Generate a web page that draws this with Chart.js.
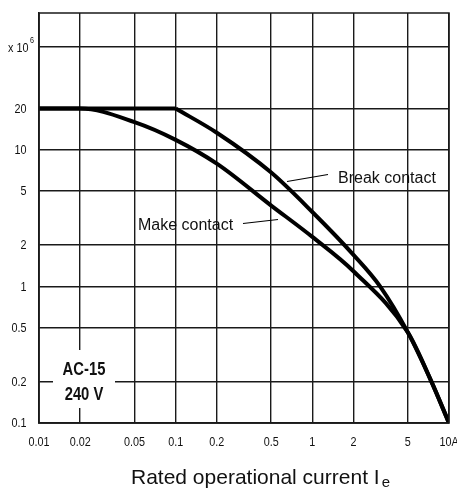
<!DOCTYPE html>
<html>
<head>
<meta charset="utf-8">
<script src="https://cdn.jsdelivr.net/npm/chart.js@4"></script>
<style>
  html, body { margin: 0; padding: 0; background: #fff; }
  canvas { display: block; }
</style>
</head>
<body>
<canvas id="c" width="457" height="488"></canvas>
<script>
// Axis ticks
const xTicks = [0.01, 0.02, 0.05, 0.1, 0.2, 0.5, 1, 2, 5, 10];
const xTickLabels = ['0.01', '0.02', '0.05', '0.1', '0.2', '0.5', '1', '2', '5', '10A'];
const yTicks = [0.1, 0.2, 0.5, 1, 2, 5, 10, 20, 57];
const yTickLabels = ['0.1', '0.2', '0.5', '1', '2', '5', '10', '20', ''];
const unitTick = 57;          // grid line that carries the "x 10^6" multiplier

// Electrical life (operations x 10^6) vs rated operational current (A)
const breakCurrent = [0.01, 0.1, 0.2, 0.5, 1, 2, 3.13, 5, 7.45, 10];
const breakOps     = [20,   20,  13.3, 6.8, 3.5, 1.7, 1, 0.46, 0.2, 0.1];
const makeCurrent  = [0.01, 0.02, 0.05, 0.1, 0.2, 0.5, 1, 2, 5, 7.45, 10];
const makeOps      = [20,   20,   15.9, 11.8, 7.9, 3.9, 2.3, 1.29, 0.46, 0.2, 0.1];

const SANS = "'Liberation Sans', Arial, sans-serif";
const NARROW_SCALE = 0.8;     // condensed look for tick and panel lettering
const INK = '#111';

const toPoints = (xs, ys) => xs.map((x, i) => ({ x, y: ys[i] }));
const breakPts = toPoints(breakCurrent, breakOps);
const makePts = toPoints(makeCurrent, makeOps);
// the break curve has a sharp knee where the plateau ends
const knee = breakOps.lastIndexOf(breakOps[0]);

const lineStyle = {
  borderColor: '#000',
  borderWidth: 4,
  pointRadius: 0,
  fill: false,
  cubicInterpolationMode: 'monotone',
  borderJoinStyle: 'round',
  borderCapStyle: 'butt'
};

// draw text squeezed horizontally around its anchor point
function narrowText(ctx, text, x, y, font, align, baseline) {
  ctx.save();
  ctx.font = font;
  ctx.textAlign = align;
  ctx.textBaseline = baseline;
  ctx.translate(x, y);
  ctx.scale(NARROW_SCALE, 1);
  ctx.fillText(text, 0, 0);
  ctx.restore();
}

const annotations = {
  id: 'annotations',
  beforeDatasetsDraw(chart) {
    const { ctx } = chart;
    // white panel with the utilisation category
    ctx.save();
    ctx.fillStyle = '#fff';
    ctx.fillRect(53, 350, 62, 58);
    ctx.fillStyle = INK;
    narrowText(ctx, 'AC-15', 84, 375, `bold 18.5px ${SANS}`, 'center', 'alphabetic');
    narrowText(ctx, '240 V', 84, 400, `bold 18.5px ${SANS}`, 'center', 'alphabetic');
    ctx.restore();
  },
  afterDraw(chart) {
    const { ctx, chartArea: a, scales } = chart;
    ctx.save();
    // frame
    ctx.strokeStyle = '#1a1a1a';
    ctx.lineWidth = 1.5;
    ctx.strokeRect(a.left, a.top, a.right - a.left, a.bottom - a.top);

    // tick labels
    ctx.fillStyle = INK;
    const tickFont = `13.5px ${SANS}`;
    xTicks.forEach((v, i) => {
      narrowText(ctx, xTickLabels[i], scales.x.getPixelForValue(v), a.bottom + 19, tickFont, 'center', 'middle');
    });
    yTicks.forEach((v, i) => {
      if (yTickLabels[i]) {
        narrowText(ctx, yTickLabels[i], 26.5, scales.y.getPixelForValue(v) + 0.5, tickFont, 'right', 'middle');
      }
    });

    // multiplier on the top grid line
    const yu = scales.y.getPixelForValue(unitTick);
    narrowText(ctx, 'x 10', 28.5, yu + 1.5, tickFont, 'right', 'middle');
    narrowText(ctx, '6', 30, yu - 6, `9px ${SANS}`, 'left', 'middle');

    // curve captions with leader lines
    ctx.fillStyle = INK;
    ctx.font = `16px ${SANS}`;
    ctx.textAlign = 'left';
    ctx.textBaseline = 'alphabetic';
    ctx.fillText('Break contact', 338, 183);
    ctx.fillText('Make contact', 138, 230);
    ctx.strokeStyle = '#000';
    ctx.lineWidth = 1.2;
    ctx.beginPath();
    ctx.moveTo(287, 181.5); ctx.lineTo(328, 174.5);
    ctx.moveTo(243, 223.5); ctx.lineTo(278, 219.5);
    ctx.stroke();

    // axis title with subscript
    ctx.font = `21px ${SANS}`;
    const main = 'Rated operational current I';
    ctx.fillText(main, 131, 483.5);
    const w = ctx.measureText(main).width;
    ctx.font = `15px ${SANS}`;
    ctx.fillText('e', 131 + w + 2, 487);
    ctx.restore();
  }
};

new Chart(document.getElementById('c'), {
  type: 'line',
  data: {
    datasets: [
      { label: 'Break contact', data: breakPts.slice(0, knee + 1), ...lineStyle },
      { label: 'Break contact', data: breakPts.slice(knee), ...lineStyle },
      { label: 'Make contact', data: makePts, ...lineStyle }
    ]
  },
  options: {
    responsive: false,
    animation: false,
    devicePixelRatio: 1,
    layout: { padding: { top: 13, right: 8, bottom: 0, left: 0 } },
    plugins: { legend: { display: false }, tooltip: { enabled: false } },
    scales: {
      x: {
        type: 'logarithmic',
        min: 0.01,
        max: 10,
        afterBuildTicks: s => { s.ticks = xTicks.map(v => ({ value: v })); },
        afterFit: s => { s.height = 65; s.paddingLeft = 0; s.paddingRight = 0; },
        ticks: { display: false },
        grid: { color: '#1a1a1a', lineWidth: 1.4, drawTicks: false },
        border: { display: true, color: '#1a1a1a', width: 1.5 }
      },
      y: {
        type: 'logarithmic',
        min: 0.1,
        max: 100,
        afterBuildTicks: s => { s.ticks = yTicks.map(v => ({ value: v })); },
        afterFit: s => { s.width = 39; s.paddingTop = 0; s.paddingBottom = 0; },
        ticks: { display: false },
        grid: { color: '#1a1a1a', lineWidth: 1.4, drawTicks: false },
        border: { display: true, color: '#1a1a1a', width: 1.5 }
      }
    }
  },
  plugins: [annotations]
});
</script>
</body>
</html>
